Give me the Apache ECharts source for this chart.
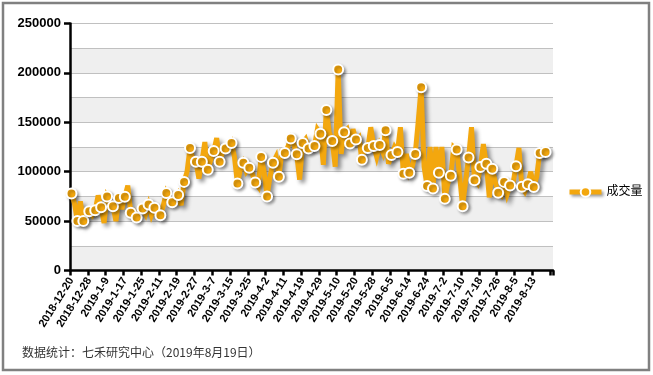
<!DOCTYPE html>
<html>
<head>
<meta charset="utf-8">
<script src="https://cdn.jsdelivr.net/npm/echarts@6/dist/echarts.min.js"></script>
<style>
html,body{margin:0;padding:0;background:#fff;}
#c{width:653px;height:375px;}
</style>
</head>
<body>
<div id="c"></div>
<script>
// ---- data ----
var dates = [
'2018-12-20','2018-12-21','2018-12-24','2018-12-25','2018-12-26','2018-12-27','2018-12-28',
'2019-1-2','2019-1-3','2019-1-4','2019-1-7','2019-1-8','2019-1-9','2019-1-10','2019-1-11','2019-1-14','2019-1-15','2019-1-16','2019-1-17','2019-1-18','2019-1-21','2019-1-22','2019-1-23','2019-1-24','2019-1-25','2019-1-28','2019-1-29','2019-1-30','2019-1-31',
'2019-2-1','2019-2-11','2019-2-12','2019-2-13','2019-2-14','2019-2-15','2019-2-18','2019-2-19','2019-2-20','2019-2-21','2019-2-22','2019-2-25','2019-2-26','2019-2-27','2019-2-28',
'2019-3-1','2019-3-4','2019-3-5','2019-3-6','2019-3-7','2019-3-8','2019-3-11','2019-3-12','2019-3-13','2019-3-14','2019-3-15','2019-3-18','2019-3-19','2019-3-20','2019-3-21','2019-3-22','2019-3-25','2019-3-26','2019-3-27','2019-3-28','2019-3-29',
'2019-4-1','2019-4-2','2019-4-3','2019-4-4','2019-4-8','2019-4-9','2019-4-10','2019-4-11','2019-4-12','2019-4-15','2019-4-16','2019-4-17','2019-4-18','2019-4-19','2019-4-22','2019-4-23','2019-4-24','2019-4-25','2019-4-26','2019-4-29','2019-4-30',
'2019-5-6','2019-5-7','2019-5-8','2019-5-9','2019-5-10','2019-5-13','2019-5-14','2019-5-15','2019-5-16','2019-5-17','2019-5-20','2019-5-21','2019-5-22','2019-5-23','2019-5-24','2019-5-27','2019-5-28','2019-5-29','2019-5-30','2019-5-31',
'2019-6-3','2019-6-4','2019-6-5','2019-6-6','2019-6-10','2019-6-11','2019-6-12','2019-6-13','2019-6-14','2019-6-17','2019-6-18','2019-6-19','2019-6-20','2019-6-21','2019-6-24','2019-6-25','2019-6-26','2019-6-27','2019-6-28',
'2019-7-1','2019-7-2','2019-7-3','2019-7-4','2019-7-5','2019-7-8','2019-7-9','2019-7-10','2019-7-11','2019-7-12','2019-7-15','2019-7-16','2019-7-17','2019-7-18','2019-7-19','2019-7-22','2019-7-23','2019-7-24','2019-7-25','2019-7-26','2019-7-29','2019-7-30','2019-7-31',
'2019-8-1','2019-8-2','2019-8-5','2019-8-6','2019-8-7','2019-8-8','2019-8-9','2019-8-12','2019-8-13','2019-8-14','2019-8-15','2019-8-16','2019-8-19',
'',''
];
var volume = [
78000,68000,50000,70000,50000,54000,60000,56000,61000,76000,
64000,48000,75000,70000,65000,50000,73500,62000,74600,86000,
58400,60000,53700,60000,62800,57000,66900,56000,63400,60000,
56000,66000,78500,72000,69000,70000,76500,66000,89700,100000,
124000,112000,110000,93000,110000,130000,102000,112000,121000,134000,
110000,120000,123500,124000,129000,115000,88000,102000,109000,100000,
104000,98000,89000,85000,115000,100000,75000,95000,109000,115000,
95000,120000,119000,125000,133500,128000,117700,92000,129000,133000,
123400,125000,126000,143000,138500,107000,162500,140000,131000,105000,
203500,118000,140000,143000,128500,143000,132500,135000,112000,125000,
124000,145000,126000,115000,127000,120000,142000,108000,117000,125000,
120000,145000,98000,118000,99000,105000,118000,150000,185500,105000,
85500,125000,83000,125000,99000,125000,72500,88000,96000,125000,
122500,95000,65000,90000,114300,145000,91400,88000,104800,128000,
108000,74000,103000,90000,78600,76000,89700,77000,86000,88000,
105600,124000,84700,80000,87400,100000,84500,95000,119000,117000,
120000
];
var seriesName = '成交量';
var yLabelStep = 50000;
var noteText = '数据统计：七禾研究中心（2019年8月19日）';

// ---- chart ----
var ORANGE = '#F3A70E';
var seriesData = volume.map(function (v, i) {
  return i % 2 === 0 ? v : { value: v, symbol: 'none' };
});

var chart = echarts.init(document.getElementById('c'), null, { renderer: 'canvas' });
chart.setOption({
  animation: false,
  backgroundColor: '#fff',
  grid: { left: 70, right: 100, top: 23.5, bottom: 104.5, containLabel: false, outerBoundsMode: 'none' },
  legend: {
    orient: 'vertical',
    left: 562, top: 181,
    itemWidth: 32, itemHeight: 12,
    lineStyle: { width: 5, shadowColor: 'rgba(0,0,0,0.4)', shadowBlur: 3, shadowOffsetX: 2, shadowOffsetY: 2 },
    textStyle: { fontSize: 12, color: '#000', fontFamily: 'Liberation Sans, Noto Sans CJK SC' },
    data: [seriesName]
  },
  xAxis: {
    type: 'category',
    data: dates,
    boundaryGap: true,
    axisLine: { lineStyle: { color: '#000', width: 2.5 } },
    axisTick: { show: true, interval: 5, length: 5, lineStyle: { color: '#000', width: 2.5 } },
    axisLabel: {
      interval: 5, rotate: 58, margin: 8,
      fontSize: 11, fontWeight: 'bold', color: '#000', fontFamily: 'Liberation Sans'
    },
    splitLine: { show: false }
  },
  yAxis: [{
    type: 'value', min: 0, max: 250000, interval: 25000,
    axisLine: { show: false }, axisTick: { show: false }, axisLabel: { show: false },
    splitLine: { show: true, lineStyle: { color: '#c0c0c0', width: 1 } },
    splitArea: { show: true, areaStyle: { color: ['#efefef', '#ffffff'] } }
  }, {
    type: 'value', min: 0, max: 250000, interval: yLabelStep, position: 'left',
    axisLine: { show: true, lineStyle: { color: '#000', width: 2.5 } },
    axisTick: { show: true, length: 6, lineStyle: { color: '#000', width: 2.5 } },
    axisLabel: { margin: 9, fontSize: 13, fontWeight: 'bold', color: '#000', fontFamily: 'Liberation Sans',
      formatter: function (v) { return String(v); } },
    splitLine: { show: false }, splitArea: { show: false }
  }],
  series: [{
    name: seriesName,
    type: 'line',
    yAxisIndex: 0,
    data: seriesData,
    showAllSymbol: true,
    symbol: 'circle',
    symbolSize: 10,
    itemStyle: { color: ORANGE, borderColor: '#fff', borderWidth: 2,
      shadowColor: 'rgba(0,0,0,0.3)', shadowBlur: 3, shadowOffsetX: 2, shadowOffsetY: 2 },
    lineStyle: { color: ORANGE, width: 5, join: 'miter', miterLimit: 4,
      shadowColor: 'rgba(0,0,0,0.45)', shadowBlur: 4, shadowOffsetX: 3, shadowOffsetY: 3 },
    emphasis: { disabled: true }
  }],
  graphic: [{
    type: 'rect', shape: { x: 3, y: 3, width: 646, height: 367 },
    style: { fill: 'none', stroke: '#808080', lineWidth: 2.5 }, silent: true
  }, {
    type: 'text', left: 22, top: 346,
    style: { text: noteText, fontSize: 12, fill: '#333', fontFamily: 'Noto Sans CJK SC' }
  }]
});
</script>
</body>
</html>
